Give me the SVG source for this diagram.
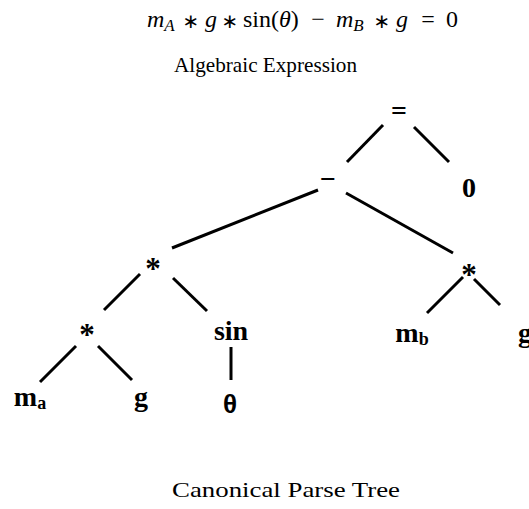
<svg xmlns="http://www.w3.org/2000/svg" width="529" height="509" viewBox="0 0 529 509">
<style>
.cap{font-family:"Liberation Serif","DejaVu Serif",serif;font-size:22px;fill:#000}
.eq{font-family:"Liberation Serif","DejaVu Serif",serif;font-size:24px;fill:#000}
.it{font-style:italic}
.op{font-family:"DejaVu Sans","Liberation Sans",sans-serif;font-size:20px;text-anchor:middle}
.mid{text-anchor:middle}
.lbl{font-family:"Liberation Serif","DejaVu Serif",serif;font-size:28px;font-weight:bold;fill:#000;text-anchor:middle}
.star{font-size:31px}
.sub{font-size:18px}
.th{font-family:"Liberation Sans","DejaVu Sans",sans-serif;font-size:26px;font-weight:bold;fill:#000;text-anchor:middle}
.edge{stroke:#000;stroke-width:3;stroke-linecap:butt;fill:none}
</style>
<rect width="529" height="509" fill="#fff"/>
<g id="title" class="eq">
<text x="147" y="27" class="it">m<tspan font-size="17" dy="4">A</tspan></text>
<text x="191" y="28" class="op">∗</text>
<text x="205" y="27" class="it">g</text>
<text x="230" y="28" class="op">∗</text>
<text x="243" y="27">sin(<tspan class="it">θ</tspan>)</text>
<text x="318" y="27" class="mid">−</text>
<text x="336" y="27" class="it">m<tspan font-size="17" dy="4">B</tspan></text>
<text x="382" y="28" class="op">∗</text>
<text x="396" y="27" class="it">g</text>
<text x="428" y="27" class="mid">=</text>
<text x="446" y="27">0</text>
<text class="cap" x="174" y="72" textLength="183" lengthAdjust="spacingAndGlyphs">Algebraic Expression</text>
</g>
<g id="connectors">
<line class="edge" x1="383" y1="125" x2="347" y2="162"/>
<line class="edge" x1="414" y1="127" x2="449" y2="162"/>
<line class="edge" x1="318" y1="190" x2="172" y2="248"/>
<line class="edge" x1="346" y1="193" x2="453" y2="253"/>
<line class="edge" x1="140" y1="274" x2="104" y2="310"/>
<line class="edge" x1="173" y1="278" x2="207" y2="311"/>
<line class="edge" x1="76" y1="346" x2="40" y2="382"/>
<line class="edge" x1="98" y1="346" x2="132" y2="380"/>
<line class="edge" x1="231" y1="347" x2="231" y2="380"/>
<line class="edge" x1="463" y1="277" x2="427" y2="313"/>
<line class="edge" x1="474" y1="279" x2="500" y2="305"/>
</g>
<g id="n-eq"><text class="lbl" x="399" y="120">=</text></g>
<g id="n-minus"><text class="lbl" x="328" y="188">−</text></g>
<g id="n-zero"><text class="lbl" x="469" y="197">0</text></g>
<g id="n-mul1"><text class="lbl star" x="153" y="279">*</text></g>
<g id="n-mul2"><text class="lbl star" x="469" y="285">*</text></g>
<g id="n-mul3"><text class="lbl star" x="87" y="345">*</text></g>
<g id="n-sin"><text class="lbl" x="231" y="340">sin</text></g>
<g id="n-ma"><text class="lbl" x="30" y="406">m<tspan class="sub" dy="3">a</tspan></text></g>
<g id="n-g1"><text class="lbl" x="141" y="406">g</text></g>
<g id="n-theta"><text class="th" x="230" y="413">θ</text></g>
<g id="n-mb"><text class="lbl" x="412" y="342">m<tspan class="sub" dy="3">b</tspan></text></g>
<g id="n-g2"><text class="lbl" x="525" y="342">g</text></g>
<g id="caption">
<text class="cap" x="172" y="497" textLength="228" lengthAdjust="spacingAndGlyphs">Canonical Parse Tree</text>
</g>
</svg>
